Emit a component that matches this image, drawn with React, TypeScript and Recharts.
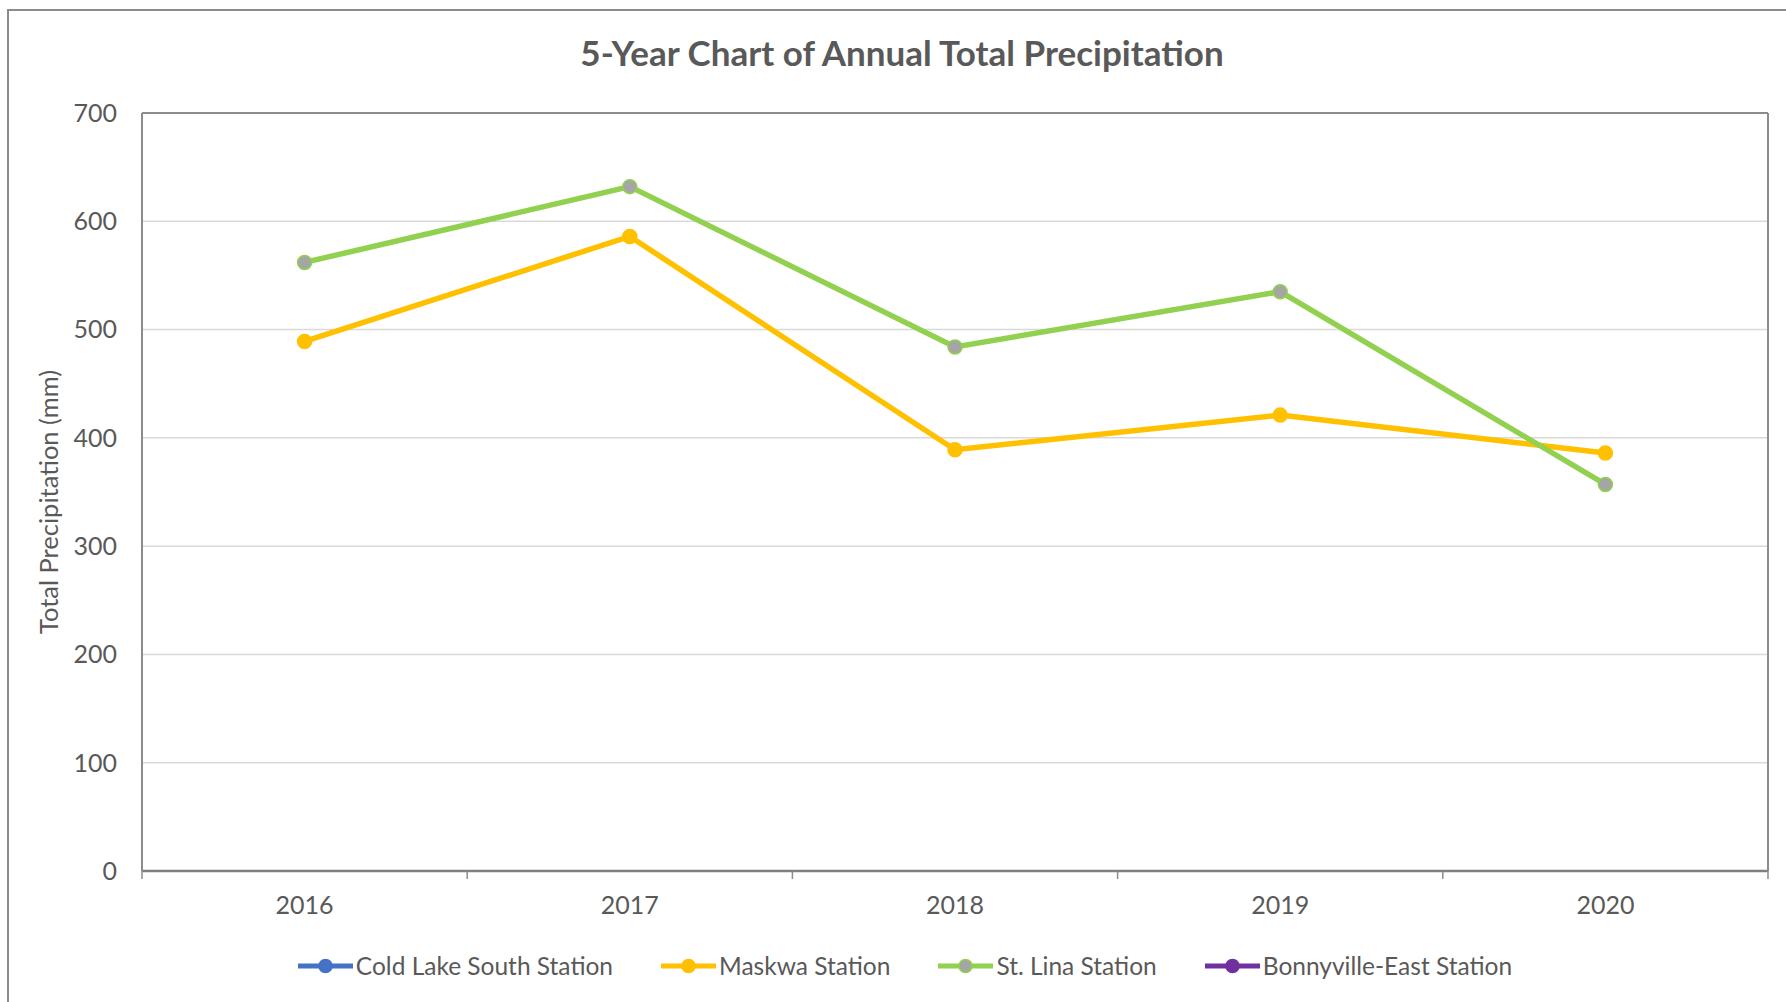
import { CartesianGrid, Legend, Line, LineChart, XAxis, YAxis } from "recharts";

const years = ["2016", "2017", "2018", "2019", "2020"];
const coldLakeSouth: (number | null)[] = [null, null, null, null, null];
const maskwa: (number | null)[] = [489, 586, 389, 421, 386];
const stLina: (number | null)[] = [562, 632, 484, 535, 357];
const bonnyvilleEast: (number | null)[] = [null, null, null, null, null];
const yTicks = [0, 100, 200, 300, 400, 500, 600, 700];

const seriesKeys = ["coldLake", "maskwa", "stLina", "bonnyville"];
const seriesNames = ["Cold Lake South Station", "Maskwa Station", "St. Lina Station", "Bonnyville-East Station"];
const seriesColors = ["#4472C4", "#FFC000", "#92D050", "#7030A0"];
const markerFills = ["#4472C4", "#FFC000", "#A5A5A5", "#7030A0"];

const data = years.map((year, i) => ({
  year,
  coldLake: coldLakeSouth[i],
  maskwa: maskwa[i],
  stLina: stLina[i],
  bonnyville: bonnyvilleEast[i],
}));

const FONT = "Lato, 'Open Sans', sans-serif";
const TEXT = "#595959";
const FRAME = "#8c8c8c";
const TICK_LEN = 8;
const TICK_GAP = 17;

// Excel-style category axis: tick marks sit between the categories, labels in the middle
function YearTick(props: any) {
  const { x, y, payload, index, visibleTicksCount, width } = props;
  const half = typeof payload?.offset === "number" && payload.offset > 0 ? payload.offset : width / visibleTicksCount / 2;
  const top = y - TICK_GAP - TICK_LEN;
  const isLast = index === visibleTicksCount - 1;
  return (
    <g>
      <line x1={x - half} x2={x - half} y1={top} y2={top + TICK_LEN} stroke={FRAME} strokeWidth={1.5} />
      {isLast && <line x1={x + half} x2={x + half} y1={top} y2={top + TICK_LEN} stroke={FRAME} strokeWidth={1.5} />}
      <text x={x} y={y} dy="0.71em" textAnchor="middle" fill={TEXT} fontSize={25} fontFamily={FONT}>
        {payload.value}
      </text>
    </g>
  );
}

function LegendRow() {
  return (
    <div
      style={{
        display: "flex",
        justifyContent: "center",
        gap: 48,
        paddingLeft: 24,
        fontFamily: FONT,
        fontSize: 24.5,
        lineHeight: "28px",
        color: TEXT,
      }}
    >
      {seriesNames.map((name, i) => (
        <div key={name} style={{ display: "flex", alignItems: "center", gap: 3 }}>
          <svg width={55} height={18}>
            <line x1={0} y1={9} x2={55} y2={9} stroke={seriesColors[i]} strokeWidth={5} />
            <circle cx={27.5} cy={9} r={6.5} fill={markerFills[i]} stroke={seriesColors[i]} strokeWidth={1.5} />
          </svg>
          <span>{name}</span>
        </div>
      ))}
    </div>
  );
}

export default function App() {
  return (
    <div style={{ position: "fixed", inset: 0, background: "#fff", overflow: "hidden" }}>
      <div
        style={{
          position: "absolute",
          left: 7,
          top: 9,
          width: 3000,
          height: 3000,
          border: `2px solid ${FRAME}`,
        }}
      />
      <div
        style={{
          position: "absolute",
          top: 32,
          left: 0,
          width: 1804,
          textAlign: "center",
          fontFamily: FONT,
          fontWeight: 700,
          fontSize: 35,
          lineHeight: "41px",
          color: TEXT,
        }}
      >
        5-Year Chart of Annual Total Precipitation
      </div>
      <div style={{ position: "absolute", left: 0, top: 0 }}>
        <LineChart width={1786} height={1002} data={data} margin={{ top: 112, right: 17, bottom: 101, left: 20 }}>
          <CartesianGrid horizontal vertical={false} stroke="#d9d9d9" strokeWidth={1.5} />
          <XAxis
            dataKey="year"
            scale="band"
            interval={0}
            height={30}
            tickLine={false}
            tickSize={TICK_LEN}
            tickMargin={TICK_GAP}
            axisLine={{ stroke: "#7f7f7f", strokeWidth: 2.5 }}
            tick={<YearTick />}
          />
          <XAxis
            xAxisId="top"
            dataKey="year"
            scale="band"
            orientation="top"
            height={1}
            tick={false}
            tickLine={false}
            axisLine={{ stroke: FRAME, strokeWidth: 2 }}
          />
          <YAxis
            type="number"
            domain={[0, 700]}
            ticks={yTicks}
            interval={0}
            width={122}
            tickLine={false}
            tickSize={0}
            tickMargin={25}
            axisLine={{ stroke: FRAME, strokeWidth: 2 }}
            tick={{ fontSize: 25, fill: TEXT, fontFamily: FONT }}
            label={{
              value: "Total Precipitation (mm)",
              angle: -90,
              position: "insideLeft",
              offset: 29,
              dy: 10,
              style: { textAnchor: "middle", fontSize: 25.5, fill: TEXT, fontFamily: FONT },
            }}
          />
          <YAxis
            yAxisId="right"
            orientation="right"
            type="number"
            domain={[0, 700]}
            ticks={yTicks}
            width={1}
            tick={false}
            tickLine={false}
            axisLine={{ stroke: FRAME, strokeWidth: 2 }}
          />
          <Legend
            verticalAlign="middle"
            align="center"
            layout="horizontal"
            wrapperStyle={{ top: 952, left: 0, width: 1786 }}
            content={() => <LegendRow />}
          />
          {seriesKeys.map((key, i) => (
            <Line
              key={key}
              dataKey={key}
              name={seriesNames[i]}
              stroke={seriesColors[i]}
              strokeWidth={5.5}
              dot={{ r: 7, fill: markerFills[i], stroke: seriesColors[i], strokeWidth: 1.5 }}
              activeDot={false}
              isAnimationActive={false}
            />
          ))}
        </LineChart>
      </div>
    </div>
  );
}
